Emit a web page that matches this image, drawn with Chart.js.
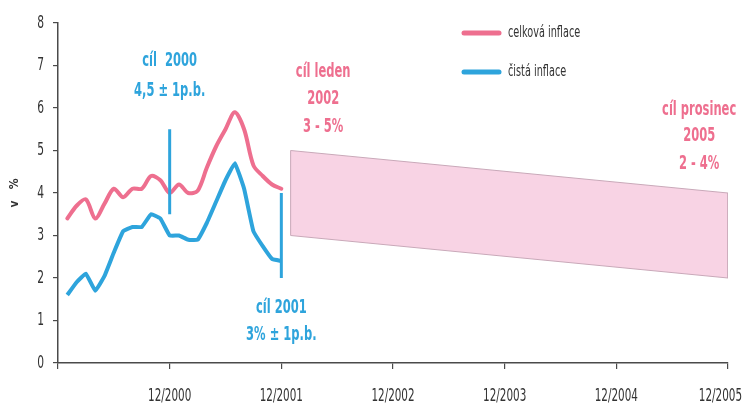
<!DOCTYPE html>
<html lang="cs">
<head>
<meta charset="utf-8">
<title>Inflace a inflační cíle</title>
<script src="https://cdn.jsdelivr.net/npm/chart.js@4.4.1/dist/chart.umd.min.js"></script>
<style>
  html, body { margin: 0; padding: 0; background: #fff; }
  #wrap { width: 743px; height: 403px; }
</style>
</head>
<body>
<div id="wrap"><canvas id="infl" width="743" height="403"></canvas></div>
<script>
// months counted from 12/1999 (0) to 12/2005 (72)
const months = [1, 2, 3, 4, 5, 6, 7, 8, 9, 10, 11, 12, 13, 14, 15, 16, 17, 18, 19, 20, 21, 22, 23, 24];
const celkova = [3.4, 3.7, 3.85, 3.4, 3.75, 4.1, 3.9, 4.1, 4.1, 4.4, 4.3, 4.0, 4.2, 4.0, 4.05, 4.6, 5.1, 5.5, 5.9, 5.5, 4.65, 4.4, 4.2, 4.1];
const cista = [1.6, 1.9, 2.1, 1.7, 2.05, 2.6, 3.1, 3.2, 3.2, 3.5, 3.4, 3.0, 3.0, 2.9, 2.9, 3.3, 3.8, 4.3, 4.7, 4.1, 3.1, 2.75, 2.45, 2.4];

// target ranges for 2000 and 2001 (vertical bars)
const cil2000 = { month: 12, low: 3.5, high: 5.5 };
const cil2001 = { month: 24, low: 2, high: 4 };

// target band 1/2002 -> 12/2005
const bandMonths = [25, 72];
const bandHigh = [5, 4];
const bandLow = [3, 2];

const xTickLabels = ['', '12/2000', '12/2001', '12/2002', '12/2003', '12/2004', '12/2005'];
const yTicks = [0, 1, 2, 3, 4, 5, 6, 7, 8];

const PINK = '#ee6f8f';
const BLUE = '#2ea4dc';
const AXIS = '#4a4a4a';
const FONT = '"DejaVu Sans Condensed", "DejaVu Sans", sans-serif';

const labels = [
  { text: 'cíl  2000', m: 12, v: 7.1, color: BLUE },
  { text: '4,5 ± 1p.b.', m: 12, v: 6.4, color: BLUE },
  { text: 'cíl leden', m: 28.5, v: 6.85, color: PINK },
  { text: '2002', m: 28.5, v: 6.21, color: PINK },
  { text: '3 - 5%', m: 28.5, v: 5.56, color: PINK },
  { text: 'cíl 2001', m: 24, v: 1.31, color: BLUE },
  { text: '3% ± 1p.b.', m: 24, v: 0.67, color: BLUE },
  { text: 'cíl prosinec', m: 68.9, v: 5.95, color: PINK },
  { text: '2005', m: 68.9, v: 5.34, color: PINK },
  { text: '2 - 4%', m: 68.9, v: 4.69, color: PINK }
];

const legendItems = [
  { text: 'celková inflace', color: PINK, y: 33 },
  { text: 'čistá inflace', color: BLUE, y: 72 }
];

function toPoints(xs, ys) {
  return xs.map((x, i) => ({ x: x, y: ys[i] }));
}

// band as a closed polygon: top edge forward, bottom edge back
const bandPoly = toPoints(bandMonths, bandHigh)
  .concat(toPoints(bandMonths.slice().reverse(), bandLow.slice().reverse()));
bandPoly.push(bandPoly[0]);

// the fonts at hand are wider than the narrow face of the original, squeeze them
function narrowText(ctx, text, x, y, sx, align) {
  ctx.save();
  ctx.translate(x, y);
  ctx.scale(sx, 1);
  ctx.textAlign = align;
  ctx.fillText(text, 0, 0);
  ctx.restore();
}

const textPlugin = {
  id: 'textPlugin',
  afterDraw(chart) {
    const ctx = chart.ctx;
    const xs = chart.scales.x;
    const ys = chart.scales.y;
    ctx.save();
    ctx.textBaseline = 'middle';

    // tick labels
    ctx.fillStyle = '#333';
    ctx.font = '18px ' + FONT;
    ys.ticks.forEach(t => {
      narrowText(ctx, String(t.value), 44, ys.getPixelForValue(t.value), 0.66, 'right');
    });
    ctx.font = '17px ' + FONT;
    xs.ticks.forEach(t => {
      const txt = xTickLabels[t.value / 12];
      if (!txt) return;
      const w = ctx.measureText(txt).width * 0.68;
      const px = Math.min(xs.getPixelForValue(t.value), chart.width - w / 2 - 1);
      narrowText(ctx, txt, px, xs.bottom - 6, 0.68, 'center');
    });

    // annotations
    ctx.font = 'bold 20px ' + FONT;
    labels.forEach(l => {
      ctx.fillStyle = l.color;
      narrowText(ctx, l.text, xs.getPixelForValue(l.m), ys.getPixelForValue(l.v), 0.64, 'center');
    });

    // legend
    ctx.lineCap = 'round';
    ctx.lineWidth = 5;
    ctx.font = '15px ' + FONT;
    legendItems.forEach(it => {
      ctx.strokeStyle = it.color;
      ctx.beginPath();
      ctx.moveTo(464, it.y);
      ctx.lineTo(499, it.y);
      ctx.stroke();
      ctx.fillStyle = '#333';
      narrowText(ctx, it.text, 508, it.y, 0.72, 'left');
    });
    ctx.restore();
  }
};

function vbar(t) {
  return [{ x: t.month, y: t.low }, { x: t.month, y: t.high }];
}

new Chart(document.getElementById('infl'), {
  type: 'line',
  data: {
    datasets: [
      {
        label: 'celková inflace',
        data: toPoints(months, celkova),
        borderColor: PINK,
        borderWidth: 4,
        tension: 0.3,
        pointRadius: 0,
        borderJoinStyle: 'round',
        borderCapStyle: 'round',
        order: 2
      },
      {
        label: 'čistá inflace',
        data: toPoints(months, cista),
        borderColor: BLUE,
        borderWidth: 4,
        tension: 0.1,
        pointRadius: 0,
        borderJoinStyle: 'round',
        order: 1
      },
      {
        label: 'cíl 2000',
        data: vbar(cil2000),
        borderColor: BLUE,
        borderWidth: 3,
        pointRadius: 0,
        order: 0
      },
      {
        label: 'cíl 2001',
        data: vbar(cil2001),
        borderColor: BLUE,
        borderWidth: 3,
        pointRadius: 0,
        order: 0
      },
      {
        label: 'cíl 2002-2005',
        data: bandPoly,
        borderColor: '#c9a9b9',
        borderWidth: 1,
        backgroundColor: '#f8d3e4',
        fill: 'shape',
        pointRadius: 0,
        tension: 0,
        order: 5
      }
    ]
  },
  options: {
    responsive: false,
    animation: false,
    layout: { padding: { top: 23, right: 15, left: 0, bottom: 0 } },
    plugins: {
      legend: { display: false },
      tooltip: { enabled: false }
    },
    scales: {
      x: {
        type: 'linear',
        min: 0,
        max: 72,
        afterFit(scale) {
          scale.height = 40;
          scale.paddingLeft = 0;
          scale.paddingRight = 0;
        },
        ticks: { display: false, stepSize: 12, autoSkip: false },
        grid: { drawOnChartArea: false, drawTicks: true, tickLength: 6, color: AXIS, lineWidth: 1.2 },
        border: { display: true, color: AXIS, width: 1.5 }
      },
      y: {
        min: 0,
        max: 8,
        afterFit(scale) {
          scale.width = 58;
          scale.paddingTop = 0;
          scale.paddingBottom = 0;
        },
        afterBuildTicks(scale) {
          scale.ticks = yTicks.map(v => ({ value: v }));
        },
        ticks: { display: false },
        title: {
          display: true,
          text: 'v   %',
          color: '#333',
          font: { family: FONT, size: 12, weight: 'bold' },
          padding: { top: 8, bottom: 0 }
        },
        grid: { drawOnChartArea: false, drawTicks: true, tickLength: 5, color: AXIS, lineWidth: 1.2 },
        border: { display: true, color: AXIS, width: 1.5 }
      }
    }
  },
  plugins: [textPlugin]
});
</script>
</body>
</html>
